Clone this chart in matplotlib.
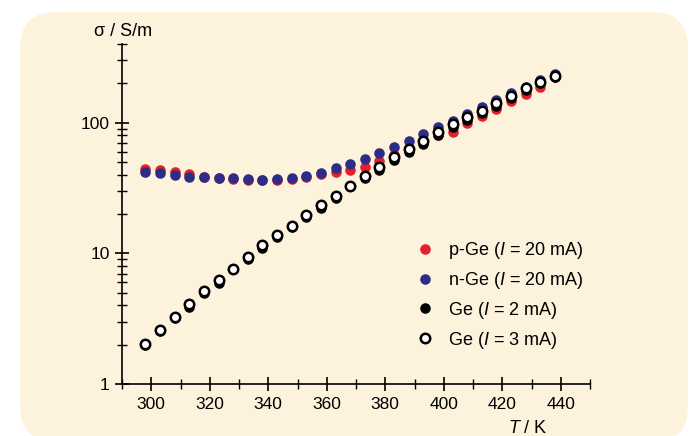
import matplotlib
matplotlib.use('Agg')
import matplotlib.pyplot as plt
import matplotlib.patches as mpatches
from matplotlib.ticker import FixedLocator, FixedFormatter, NullFormatter, MultipleLocator
import numpy as np

plt.rcParams['font.family'] = ['Liberation Sans', 'DejaVu Sans']
plt.rcParams['mathtext.fontset'] = 'custom'
plt.rcParams['mathtext.it'] = 'Liberation Sans:italic'
plt.rcParams['mathtext.rm'] = 'Liberation Sans'

# temperature in K
T = [298, 303, 308, 313, 318, 323, 328, 333, 338, 343, 348, 353, 358, 363, 368,
     373, 378, 383, 388, 393, 398, 403, 408, 413, 418, 423, 428, 433, 438]

# conductivity in S/m
p_ge = [44.5, 43.5, 42.0, 40.3, 38.6, 37.6, 37.0, 36.4, 36.2, 36.6, 37.3, 38.6, 40.5, 41.7, 43.8,
        46.1, 51.0, 57.0, 64.0, 72.0, 80.0, 85.0, 100.0, 112.0, 127.0, 147.0, 166.0, 188.0, 222.0]
n_ge = [41.8, 41.0, 39.9, 38.7, 38.3, 37.8, 37.4, 36.9, 36.7, 37.2, 37.8, 39.4, 41.5, 44.8, 48.4,
        52.5, 58.3, 64.8, 72.5, 82.4, 92.7, 103.6, 116.5, 131.0, 149.0, 168.5, 186.0, 212.0, 235.0]
ge_2ma = [2.0, 2.55, 3.2, 3.9, 5.0, 5.95, 7.55, 9.0, 11.0, 13.3, 15.9, 19.0, 22.4, 26.5, 32.5,
          37.5, 43.8, 51.5, 59.5, 69.0, 80.5, 93.0, 105.0, 118.0, 134.0, 154.0, 177.0, 200.0, 225.0]
ge_3ma = [2.02, 2.58, 3.23, 4.06, 5.13, 6.3, 7.64, 9.37, 11.5, 13.9, 16.1, 19.5, 23.3, 27.7, 32.9,
          38.9, 46.1, 54.3, 63.0, 72.9, 84.3, 97.8, 110.0, 123.0, 141.0, 161.0, 183.0, 204.0, 229.0]

labels = ['p-Ge ($I$ = 20 mA)', 'n-Ge ($I$ = 20 mA)', 'Ge ($I$ = 2 mA)', 'Ge ($I$ = 3 mA)']

RED = '#E5202B'
BLUE = '#2E2D85'
BG = '#FDF2DC'

fig = plt.figure(figsize=(6.91, 4.36), dpi=100)
fig.patch.set_facecolor('white')
bg = mpatches.FancyBboxPatch((20, -6), 668, 430, boxstyle='round,pad=0,rounding_size=36',
                             transform=None, facecolor=BG, edgecolor='none', zorder=-5)
fig.patches.append(bg)

ax = fig.add_axes([122 / 691, 1 - 384 / 436, (590 - 122) / 691, (384 - 44) / 436])
ax.set_zorder(2)
ax.patch.set_alpha(0)
ax.set_yscale('log')
ax.set_xlim(290, 450)
ax.set_ylim(1, 400)

ms = 7.6
ax.plot(T, p_ge, 'o', ms=ms, color=RED, mec='none', label=labels[0], zorder=3)
ax.plot(T, n_ge, 'o', ms=ms, color=BLUE, mec='none', label=labels[1], zorder=4)
ax.plot(T, ge_2ma, 'o', ms=ms, color='black', mec='none', label=labels[2], zorder=5)
ax.plot(T, ge_3ma, 'o', ms=6.8, mfc='white', mec='black', mew=1.8, label=labels[3], zorder=6)

for s in ['top', 'right']:
    ax.spines[s].set_visible(False)
for s in ['left', 'bottom']:
    ax.spines[s].set_linewidth(1.2)

ax.xaxis.set_major_locator(FixedLocator([300, 320, 340, 360, 380, 400, 420, 440]))
ax.xaxis.set_minor_locator(MultipleLocator(10))
ax.yaxis.set_major_locator(FixedLocator([1, 10, 100]))
ax.yaxis.set_major_formatter(FixedFormatter(['1', '10', '100']))
minors = [m * 10 ** d for d in range(3) for m in range(2, 10) if m * 10 ** d <= 400]
ax.yaxis.set_minor_locator(FixedLocator(minors))
ax.yaxis.set_minor_formatter(NullFormatter())

ax.tick_params(which='major', direction='inout', length=10, width=1.2, labelsize=12.5, pad=4)
ax.tick_params(which='minor', direction='inout', length=6.5, width=1.0)

fig.text(123 / 691, 1 - 32 / 436, 'σ / S/m', ha='center', va='center', fontsize=13)
fig.text(528 / 691, 1 - 428 / 436, '$T$ / K', ha='center', va='center', fontsize=13)

ax.legend(loc='upper left', bbox_to_anchor=(0.609, 0.45), frameon=False, fontsize=13,
          handletextpad=0.75, labelspacing=0.49, handlelength=1.0, borderpad=0)

fig.savefig('out.png', dpi=100)
